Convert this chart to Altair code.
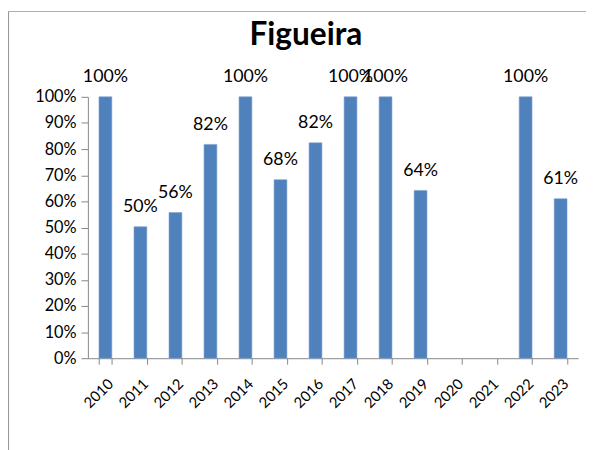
import altair as alt
import pandas as pd

title_text = "Figueira"
years = ["2010", "2011", "2012", "2013", "2014", "2015", "2016",
         "2017", "2018", "2019", "2020", "2021", "2022", "2023"]
values = [1.00, 0.503, 0.557, 0.818, 1.00, 0.683, 0.824,
          1.00, 1.00, 0.642, None, None, 1.00, 0.61]
y_ticks = [0, 0.1, 0.2, 0.3, 0.4, 0.5, 0.6, 0.7, 0.8, 0.9, 1.0]

df = pd.DataFrame({"year": years, "value": values})

FONT = "Lato"
BAR = "#4F81BD"
AXIS_GREY = "#868686"

x_scale = alt.Scale(domain=years, paddingInner=0.63, paddingOuter=0.315)
y_scale = alt.Scale(domain=[0, 1])

x = alt.X("year:N", sort=years, scale=x_scale,
          axis=alt.Axis(title=None, labelAngle=-45, labelFontSize=15, labelFont=FONT,
                        labelColor="#000000", domainColor=AXIS_GREY, tickColor=AXIS_GREY,
                        tickSize=6, tickBand="extent", labelPadding=12, labelOverlap=False))
y = alt.Y("value:Q", scale=y_scale,
          axis=alt.Axis(title=None, values=y_ticks, format=".0%", labelFontSize=16.5,
                        labelFont=FONT, labelColor="#000000", domainColor=AXIS_GREY,
                        tickColor=AXIS_GREY, tickSize=7, grid=False, labelPadding=5,
                        labelOverlap=False, labelFlush=False))

base = alt.Chart(df)

bars = base.mark_bar(color=BAR, size=13, stroke="#7C9FCF", strokeWidth=0.6).encode(x=x, y=y)

labels = base.transform_filter("datum.value != null").mark_text(
    font=FONT, fontSize=18, baseline="alphabetic", dy=-15, color="#000000"
).encode(x=x, y=y, text=alt.Text("value:Q", format=".0%"))

title = alt.Chart(pd.DataFrame({"t": [title_text]})).mark_text(
    font=FONT, fontSize=32, fontWeight="bold", baseline="alphabetic", align="center", color="#000000"
).encode(text="t:N", x=alt.value(221), y=alt.value(-53))

frame_left = alt.Chart(pd.DataFrame({"k": [0]})).mark_rule(color="#9a9a9a", strokeWidth=1.2).encode(
    x=alt.value(-80.5), y=alt.value(-87), y2=alt.value(360))
frame_top = alt.Chart(pd.DataFrame({"k": [0]})).mark_rule(color="#b0b0b0", strokeWidth=1.2).encode(
    x=alt.value(-81), x2=alt.value(505), y=alt.value(-86.5))

chart = alt.layer(bars, labels, title, frame_left, frame_top).properties(
    width=497, height=265,
    autosize=alt.AutoSizeParams(type="none"),
    padding={"left": 81, "top": 87, "right": 9, "bottom": 90},
).configure(background="white").configure_view(strokeWidth=0, stroke="transparent")

chart.save("out.html", embed_options={"renderer": "svg", "actions": False})
